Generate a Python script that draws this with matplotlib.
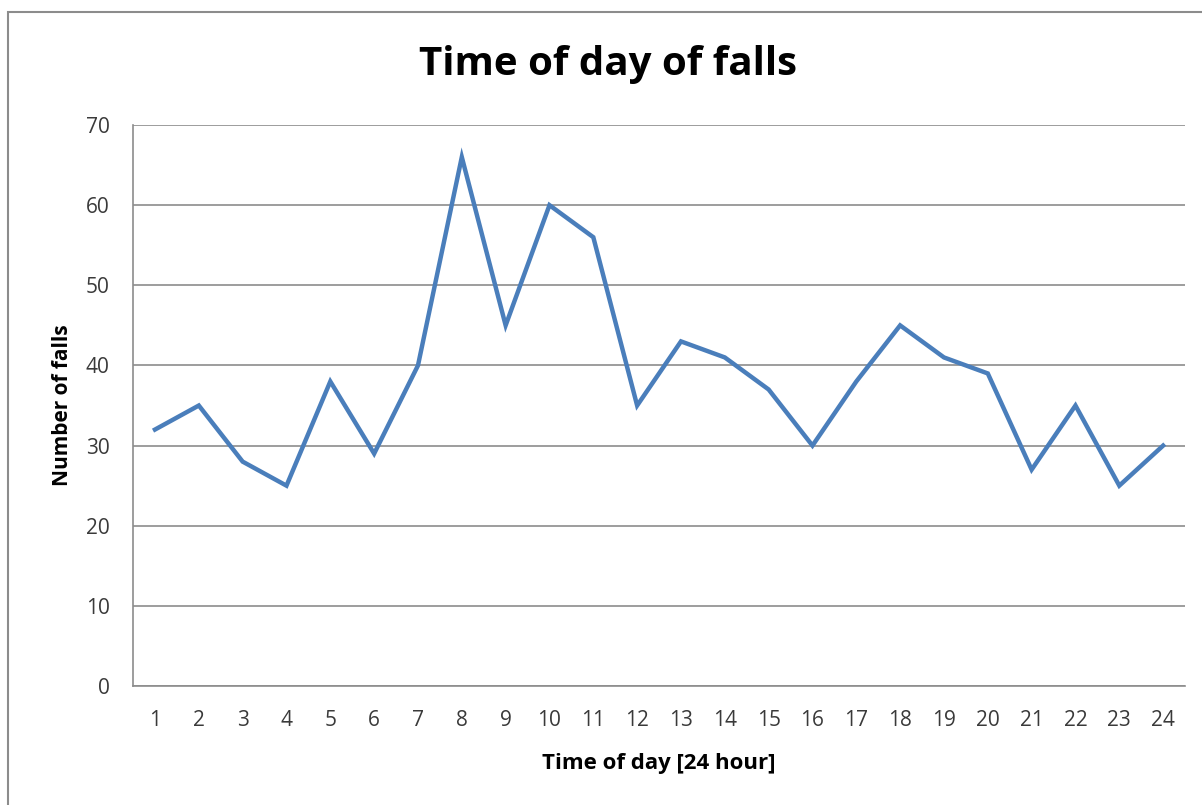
import matplotlib.pyplot as plt
from matplotlib.patches import Rectangle

# dados
horas = list(range(1, 25))
quedas = [32, 35, 28, 25, 38, 29, 40, 66, 45, 60, 56, 35,
          43, 41, 37, 30, 38, 45, 41, 39, 27, 35, 25, 30]
y_ticks = [0, 10, 20, 30, 40, 50, 60, 70]

plt.rcParams['font.family'] = ['Open Sans', 'DejaVu Sans']

fig = plt.figure(figsize=(12.02, 8.05), dpi=100)
ax = fig.add_axes([0.1107, 0.1478, 0.8752, 0.6969])

# moldura externa do gráfico
fig.patches.append(Rectangle((8 / 1202, -0.01), 1.02, 1 - 12 / 805 + 0.01,
                             transform=fig.transFigure, fill=False,
                             edgecolor='#8c8c8c', linewidth=1.5))

ax.plot(horas, quedas, color='#4a7ebb', linewidth=3.2, solid_joinstyle='miter')

ax.set_xlim(0.5, 24.5)
ax.set_ylim(0, 70)
ax.set_yticks(y_ticks)
ax.set_xticks(horas)
ax.yaxis.grid(True, color='#8c8c8c', linewidth=1.2)
ax.set_axisbelow(True)
ax.tick_params(length=0, labelsize=15, colors='#3a3a3a')
ax.tick_params(axis='x', pad=17)
ax.tick_params(axis='y', pad=17)

for s in ['top', 'right']:
    ax.spines[s].set_visible(False)
for s in ['left', 'bottom']:
    ax.spines[s].set_color('#8c8c8c')
    ax.spines[s].set_linewidth(1.2)

ax.set_title('Time of day of falls', fontsize=29, fontweight='bold', pad=36,
             x=(608 - 133) / 1052)
ax.set_xlabel('Time of day [24 hour]', fontsize=16, fontweight='bold', labelpad=16)
ax.set_ylabel('Number of falls', fontsize=15, fontweight='bold', labelpad=9)

fig.savefig('out.png', dpi=100)
